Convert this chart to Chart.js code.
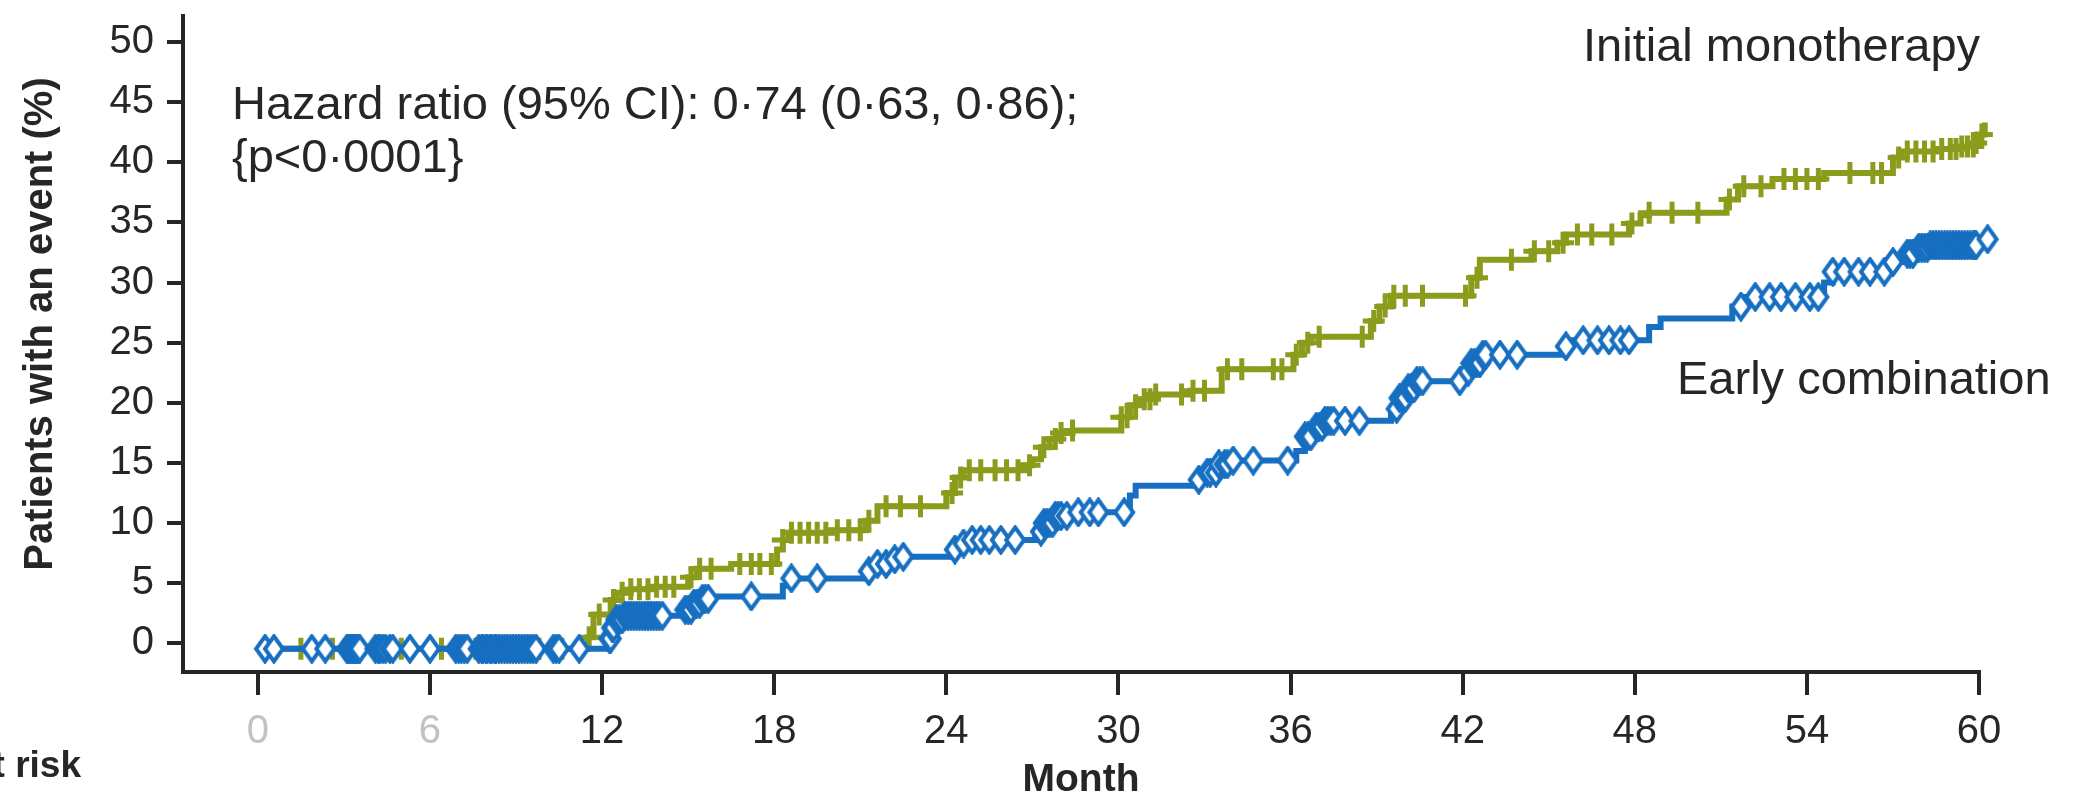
<!DOCTYPE html>
<html>
<head>
<meta charset="utf-8">
<title>Patients with an event</title>
<script src="https://cdn.jsdelivr.net/npm/chart.js@4.4.1/dist/chart.umd.min.js"></script>
<style>
  html, body { margin: 0; padding: 0; background: #fff; }
  #wrap { width: 2082px; height: 798px; }
</style>
</head>
<body>
<div id="wrap"><canvas id="km" width="2082" height="798"></canvas></div>
<script>
// axis ticks
const monthTicks = [0, 6, 12, 18, 24, 30, 36, 42, 48, 54, 60];
const pctTicks = [0, 5, 10, 15, 20, 25, 30, 35, 40, 45, 50];

// Early combination: month of each step and cumulative % after it
const comboTimes = [0.2, 12.2, 12.35, 12.5, 12.8, 14.9, 15.2, 15.5, 15.9, 18.3, 18.5,
  21.2, 21.6, 22.0, 22.5, 24.2, 24.5, 24.8, 27.1, 27.4, 27.8, 28.3, 30.4, 30.6,
  32.6, 33.0, 33.5, 34.0, 36.2, 36.5, 36.9, 37.2, 39.5, 39.8, 40.1, 40.4,
  42.0, 42.3, 42.7, 45.5, 45.8, 48.5, 48.9, 51.4, 51.8, 54.6, 54.9,
  56.9, 57.3, 57.8, 58.3, 59.95, 60.35];
const comboValues = [-0.45, 0.4, 1.3, 2.0, 2.3, 2.8, 3.3, 3.7, 3.9, 4.8, 5.4,
  6.0, 6.6, 7.0, 7.2, 7.8, 8.3, 8.6, 9.3, 10.0, 10.6, 10.9, 12.3, 13.1,
  13.6, 14.2, 14.9, 15.2, 16.0, 17.2, 18.0, 18.5, 19.5, 20.4, 21.2, 21.8,
  22.6, 23.3, 24.0, 24.7, 25.2, 26.3, 27.0, 28.0, 28.8, 30.0, 30.9,
  31.7, 32.4, 32.9, 33.1, 33.6, 34.3];
// censored patients (months)
const comboCensor = [0.25, 0.56, 1.88, 2.35, 3.1, 3.15, 3.2, 3.25, 3.3, 3.35, 3.4, 3.45, 3.5,
  3.55, 4.1, 4.2, 4.25, 4.35, 4.45, 4.6, 4.7, 5.3, 6.0, 6.9, 7.0, 7.1, 7.2, 7.3, 7.7, 7.8,
  7.85, 7.95, 8.0, 8.1, 8.15, 8.25, 8.3, 8.4, 8.5, 8.6, 8.7, 8.8, 8.9, 9.0, 9.1, 9.2, 9.3,
  9.4, 9.5, 9.6, 9.7, 10.3, 10.4, 10.5, 11.2,
  12.25, 12.3, 12.35, 12.4, 12.5, 12.6, 12.7, 12.8, 12.9, 13.0, 13.1, 13.2, 13.3, 13.4,
  13.5, 13.6, 13.7, 13.8, 13.9, 14.0, 14.1, 14.9, 15.0, 15.1, 15.2, 15.3, 15.4, 15.5,
  15.6, 15.7, 17.2, 18.6, 19.5, 21.3, 21.6, 21.9, 22.2, 22.5, 24.3, 24.6, 24.9, 25.2,
  25.5, 25.9, 26.4, 27.3, 27.4, 27.5, 27.6, 27.7, 27.8, 27.9, 28.0, 28.2, 28.6, 29.0,
  29.3, 30.2, 32.8, 33.1, 33.2, 33.4, 33.5, 33.7, 33.8, 34.0, 34.7, 35.9,
  36.5, 36.6, 36.7, 36.9, 37.0, 37.1, 37.2, 37.3, 37.4, 37.5, 37.9, 38.4,
  39.7, 39.8, 39.9, 40.0, 40.1, 40.2, 40.3, 40.4, 40.5, 40.6, 41.9, 42.2, 42.3, 42.4,
  42.5, 42.6, 42.7, 42.8, 43.3, 43.9, 45.6, 46.2, 46.7, 47.1, 47.5, 47.8,
  51.7, 52.2, 52.7, 53.1, 53.6, 54.1, 54.4, 54.9, 55.3, 55.8, 56.2, 56.7, 57.0, 57.5,
  57.6, 57.7, 57.9, 58.0, 58.1, 58.2, 58.3, 58.4, 58.5, 58.6, 58.7, 58.8, 58.9, 59.0,
  59.1, 59.2, 59.3, 59.4, 59.5, 59.6, 59.7, 59.8, 59.85, 59.9, 60.3];

// Initial monotherapy
const monoTimes = [0.3, 11.5, 11.7, 12.3, 12.5, 13.0, 13.8, 15.0, 15.3, 16.5,
  18.1, 18.3, 18.5, 20.0, 21.2, 21.6, 24.0, 24.3, 24.6, 26.7, 27.0, 27.3, 27.6, 27.9, 28.4,
  30.1, 30.4, 30.7, 31.2, 32.5, 33.6, 36.1, 36.4, 36.7, 38.8, 39.1, 39.5,
  42.3, 42.6, 44.4, 45.3, 45.6, 47.8, 48.2, 48.5, 51.2, 51.6,
  52.8, 54.6, 57.0, 57.3, 58.5, 59.3, 59.85, 59.95, 60.2];
const monoValues = [-0.45, 0.5, 2.4, 3.6, 4.2, 4.5, 4.7, 5.5, 6.2, 6.6,
  7.8, 8.6, 9.2, 9.4, 10.2, 11.4, 12.5, 13.8, 14.4, 14.8, 15.3, 16.3, 17.0, 17.5, 17.7,
  18.8, 19.8, 20.3, 20.7, 21.0, 22.8, 24.0, 25.0, 25.5, 26.8, 28.0, 28.9,
  30.4, 31.9, 32.6, 33.3, 34.0, 34.9, 35.6, 35.8, 36.9, 38.0,
  38.6, 39.1, 40.4, 40.9, 41.1, 41.3, 41.6, 42.3, 43.3];
const monoCensor = [0.6, 1.5, 2.6, 3.3, 4.3, 5.0, 6.0, 6.4, 7.0, 7.6, 8.3, 9.0, 9.8, 10.6,
  11.55, 11.9, 12.4, 12.7, 13.0, 13.3, 13.6, 13.9, 14.2, 14.5, 15.1, 15.4, 15.8, 16.8,
  17.2, 17.5, 17.9, 18.3, 18.6, 18.9, 19.2, 19.5, 19.8, 20.2, 20.6, 21.0, 21.3, 21.9,
  22.4, 23.1, 24.2, 24.5, 24.8, 25.2, 25.7, 26.1, 26.5, 26.9, 27.4, 27.8, 28.0, 28.4,
  30.1, 30.3, 30.6, 30.9, 31.1, 31.3, 32.2, 32.6, 33.0, 33.8, 34.3, 35.4, 35.7, 36.2,
  36.6, 37.0, 38.5, 38.9, 39.3, 39.6, 40.0, 40.6, 42.1, 42.5, 43.7, 44.5, 45.0, 45.5,
  46.0, 46.5, 47.2, 47.9, 48.5, 49.3, 50.2, 51.3, 51.8, 52.4, 53.2, 53.6, 54.0, 54.4,
  55.5, 56.3, 56.6, 57.2, 57.5, 57.8, 58.1, 58.4, 58.7, 59.0, 59.2, 59.4, 59.6, 59.8,
  59.9, 60.1];

const hrText = ['Hazard ratio (95% CI): 0\u00b774 (0\u00b763, 0\u00b786);', '{p<0\u00b70001}'];

const BLUE = '#176fc1';
const GREEN = '#8b9c1d';
const INK = '#262626';
const FONT = '"Liberation Sans", Arial, Helvetica, sans-serif';

// value of a step curve at month t
function stepAt(times, values, t) {
  let v = values[0];
  for (let i = 0; i < times.length; i++) {
    if (times[i] <= t) v = values[i]; else break;
  }
  return v;
}

function curve(times, values) {
  return times.map((t, i) => ({ x: t, y: values[i] }));
}

function marks(censor, times, values) {
  return censor.map(t => ({ x: t, y: stepAt(times, values, t) }));
}

// hollow, slightly tall diamond
function diamond() {
  const c = document.createElement('canvas');
  c.width = 24; c.height = 30;
  const g = c.getContext('2d');
  g.beginPath();
  g.moveTo(12, 2.5); g.lineTo(21, 15); g.lineTo(12, 27.5); g.lineTo(3, 15);
  g.closePath();
  g.fillStyle = '#fff';
  g.fill();
  g.lineWidth = 4;
  g.strokeStyle = BLUE;
  g.stroke();
  return c;
}

const textPlugin = {
  id: 'kmText',
  afterDraw(chart) {
    const ctx = chart.ctx;
    ctx.save();
    ctx.fillStyle = INK;
    ctx.textBaseline = 'alphabetic';

    ctx.font = '47px ' + FONT;
    ctx.textAlign = 'left';
    ctx.fillText(hrText[0], 232, 119);
    ctx.fillText(hrText[1], 232, 172);
    ctx.fillText('Initial monotherapy', 1583, 61);
    ctx.fillText('Early combination', 1677, 394);

    ctx.font = 'bold 39px ' + FONT;
    ctx.textAlign = 'center';
    ctx.fillText('Month', (chart.chartArea.left + chart.chartArea.right) / 2, 791);

    ctx.font = 'bold 37px ' + FONT;
    ctx.textAlign = 'right';
    ctx.fillText('Number at risk', 81, 777);

    ctx.translate(52, 324);
    ctx.rotate(-Math.PI / 2);
    ctx.font = 'bold 40px ' + FONT;
    ctx.textAlign = 'center';
    ctx.fillText('Patients with an event (%)', 0, 0);
    ctx.restore();
  }
};

const axisGrid = len => ({
  display: true,
  drawOnChartArea: false,
  drawTicks: true,
  tickLength: len,
  tickWidth: 4,
  tickColor: INK,
  color: INK,
  lineWidth: 4
});

new Chart(document.getElementById('km'), {
  type: 'line',
  data: {
    datasets: [
      {
        label: 'Early combination censored',
        data: marks(comboCensor, comboTimes, comboValues),
        showLine: false,
        pointStyle: diamond(),
        pointRadius: 11,
        clip: false
      },
      {
        label: 'Early combination',
        data: curve(comboTimes, comboValues),
        stepped: 'before',
        borderColor: BLUE,
        borderWidth: 6,
        pointRadius: 0,
        fill: false,
        clip: false
      },
      {
        label: 'Initial monotherapy censored',
        data: marks(monoCensor, monoTimes, monoValues),
        showLine: false,
        pointStyle: 'cross',
        pointRadius: 11,
        pointBorderWidth: 5,
        pointBorderColor: GREEN,
        clip: false
      },
      {
        label: 'Initial monotherapy',
        data: curve(monoTimes, monoValues),
        stepped: 'before',
        borderColor: GREEN,
        borderWidth: 6,
        pointRadius: 0,
        fill: false,
        clip: false
      }
    ]
  },
  options: {
    responsive: false,
    devicePixelRatio: 1,
    animation: false,
    layout: { padding: { left: 0, right: 103, top: 7, bottom: 0 } },
    plugins: { legend: { display: false }, tooltip: { enabled: false } },
    scales: {
      x: {
        type: 'linear',
        min: -2.61,
        max: 60,
        afterBuildTicks: s => { s.ticks = monthTicks.map(v => ({ value: v })); },
        afterFit: s => { s.height = 126; s.paddingLeft = 0; s.paddingRight = 0; },
        border: { display: true, color: INK, width: 4 },
        grid: axisGrid(23),
        ticks: {
          autoSkip: false,
          maxRotation: 0,
          padding: 13,
          font: { family: FONT, size: 40 },
          color: c => (c.tick && c.tick.value < 12 ? '#c2c2c2' : INK)
        }
      },
      y: {
        type: 'linear',
        min: -2.38,
        max: 52.16,
        afterBuildTicks: s => { s.ticks = pctTicks.map(v => ({ value: v })); },
        afterFit: s => { s.width = 183; s.paddingTop = 0; s.paddingBottom = 0; },
        border: { display: true, color: INK, width: 4 },
        grid: axisGrid(16),
        ticks: {
          padding: 13,
          font: { family: FONT, size: 40 },
          color: INK
        }
      }
    }
  },
  plugins: [textPlugin]
});
</script>
</body>
</html>
